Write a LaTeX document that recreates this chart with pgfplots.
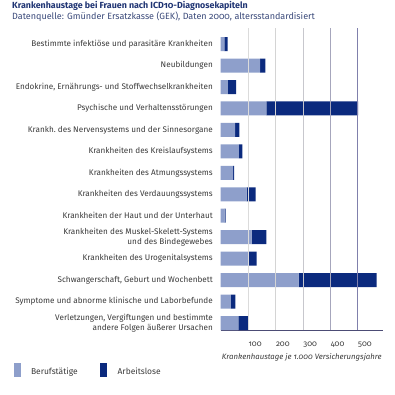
\documentclass[border=0pt]{standalone}
\usepackage{fontspec}
\setmainfont{Fira Sans}[Numbers=OldStyle]
\usepackage{pgfplots}
\pgfplotsset{compat=1.18}
\definecolor{lightbar}{HTML}{8E9FCB}
\definecolor{darkbar}{HTML}{0B2A7E}
\definecolor{titleblue}{HTML}{1F3473}
\definecolor{subblue}{HTML}{3B4A7A}
\definecolor{txt}{HTML}{3A3A3A}
\begin{document}
\begin{tikzpicture}
\path[use as bounding box] (0bp,0bp) rectangle (395bp,-395bp);
\node[anchor=north west, inner sep=0pt, text=titleblue, font=\fontsize{8.9}{10}\selectfont\bfseries] at (12bp,-1.5bp) {Krankenhaustage bei Frauen nach ICD10-Diagnosekapiteln};
\node[anchor=north west, inner sep=0pt, text=subblue, font=\fontsize{9.05}{10}\selectfont] at (12bp,-12bp) {Datenquelle: Gmünder Ersatzkasse (GEK), Daten 2000, altersstandardisiert};
\begin{axis}[
  at={(220.5bp,-330bp)}, anchor=south west,
  scale only axis, width=162.5bp, height=302bp,
  xmin=0, xmax=593, ymin=0.675, ymax=14.75,
  xbar stacked, bar width=14bp,
  axis x line*=bottom, axis y line*=left,
  x axis line style={draw=black!60!blue!40!gray, line width=0.8pt, -},
  y axis line style={draw=none},
  xtick={100,200,300,400,500}, xtick style={draw=none},
  ytick={1,...,14}, ytick style={draw=none},
  /pgf/number format/assume math mode=true,
  xticklabel style={anchor=base west, yshift=-16bp, xshift=0.5bp, inner sep=0pt, font=\fontsize{8}{9}\selectfont, text=txt},
  yticklabel style={align=right, inner sep=0pt, xshift=-7.5bp, font=\fontsize{8.2}{9.8}\selectfont, text=txt},
  yticklabels={{Verletzungen, Vergiftungen und bestimmte\\andere Folgen äußerer Ursachen},
    {Symptome und abnorme klinische und Laborbefunde},
    {Schwangerschaft, Geburt und Wochenbett},
    {Krankheiten des Urogenitalsystems},
    {Krankheiten des Muskel-Skelett-Systems\\und des Bindegewebes},
    {Krankheiten der Haut und der Unterhaut},
    {Krankheiten des Verdauungssystems},
    {Krankheiten des Atmungssystems},
    {Krankheiten des Kreislaufsystems},
    {Krankh.\ des Nervensystems und der Sinnesorgane},
    {Psychische und Verhaltensstörungen},
    {Endokrine, Ernährungs- und Stoffwechselkrankheiten},
    {Neubildungen},
    {Bestimmte infektiöse und parasitäre Krankheiten}},
  xlabel={\itshape Krankenhaustage je 1.000 Versicherungsjahre},
  xlabel style={at={(axis description cs:0.5,-0.089)}, anchor=center, font=\fontsize{7.8}{9}\selectfont, text=txt},
  legend style={at={(-1.275,-0.135)}, anchor=west, draw=none, fill=none, inner sep=0pt,
    legend columns=2, font=\fontsize{8.5}{10}\selectfont, text=txt,
    /tikz/every odd column/.append style={column sep=8.5bp},
    /tikz/every even column/.append style={column sep=20.5bp}},
  legend cell align=left,
  legend image code/.code={\fill[#1] (0bp,-5bp) rectangle (7bp,9bp);},
]
\draw[color=black!14] (axis cs:100,0.675) -- (axis cs:100,14.75);
\draw[color=black!17] (axis cs:200,0.675) -- (axis cs:200,14.75);
\draw[color=blue!10!black!22] (axis cs:300,0.675) -- (axis cs:300,14.75);
\draw[color=blue!25!black!35] (axis cs:400,0.675) -- (axis cs:400,14.75);
\draw[color=blue!35!black!50] (axis cs:500,0.675) -- (axis cs:500,14.75);
\addplot[fill=lightbar, draw=none] coordinates {
(65,1) (38,2) (285,3) (104,4) (114,5) (15,6) (95,7) (46,8) (67,9) (53,10) (167,11) (27,12) (145,13) (14,14)};
\addlegendentry{Berufstätige}
\addplot[fill=darkbar, draw=none] coordinates {
(39,1) (16,2) (285,3) (28,4) (53,5) (4,6) (33,7) (4,8) (13,9) (16,10) (335,11) (30,12) (19,13) (12,14)};
\addlegendentry{Arbeitslose}
\end{axis}
\end{tikzpicture}
\end{document}
